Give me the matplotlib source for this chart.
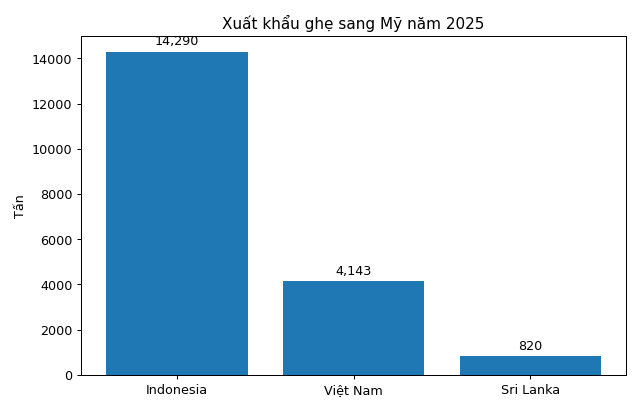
import matplotlib
matplotlib.use("Agg")
import matplotlib.pyplot as plt

countries = ["Indonesia", "Việt Nam", "Sri Lanka"]
tonnes = [14290, 4143, 820]

fig = plt.figure(figsize=(7, 4.5), dpi=640 / 7)
ax = fig.add_axes([0.127, 0.088, 0.851, 0.824])

bars = ax.bar(countries, tonnes, color="#1f77b4", width=0.8)
for b, v in zip(bars, tonnes):
    ax.annotate(f"{v:,}", (b.get_x() + b.get_width() / 2, v),
                textcoords="offset points", xytext=(0, 3), ha="center", va="bottom")

ax.set_ylim(0, 15000)
ax.set_ylabel("Tấn")
ax.set_title("Xuất khẩu ghẹ sang Mỹ năm 2025")

fig.savefig("out.png", dpi=640 / 7)
